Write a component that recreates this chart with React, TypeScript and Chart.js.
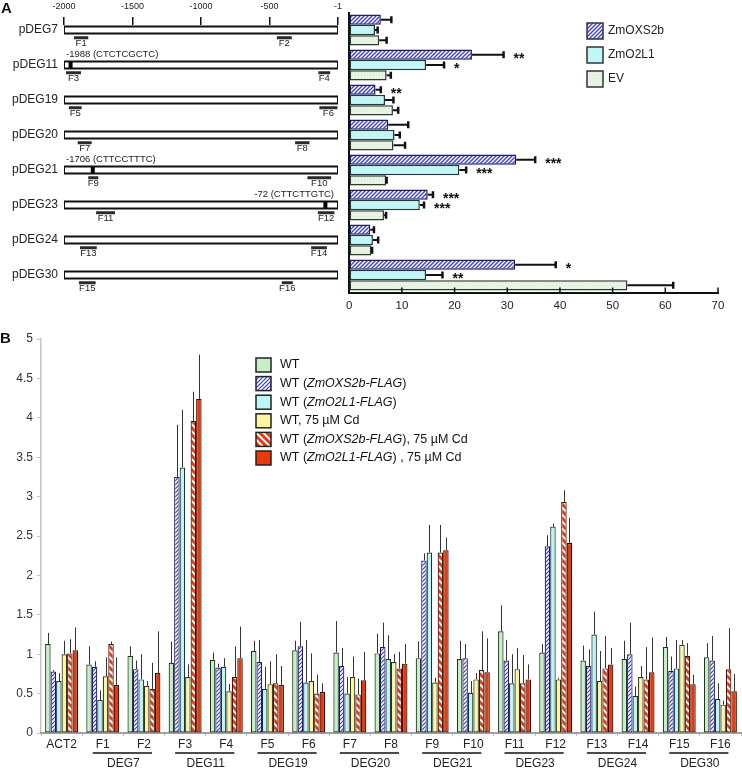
import React, { useEffect, useRef } from 'react';
import { Chart, registerables } from 'chart.js';

Chart.register(...registerables);

const FONT = '"Liberation Sans", Arial, Helvetica, sans-serif';

// ---------------- Panel A : promoter diagram ----------------
const promoters = ['pDEG7', 'pDEG11', 'pDEG19', 'pDEG20', 'pDEG21', 'pDEG23', 'pDEG24', 'pDEG30'];
const promoterStart = -2000;
const promoterEnd = -1;
const diagramTicks = [-2000, -1500, -1000, -500, -1];
const fragmentLabels = ['F1', 'F2', 'F3', 'F4', 'F5', 'F6', 'F7', 'F8', 'F9', 'F10', 'F11', 'F12', 'F13', 'F14', 'F15', 'F16'];
const fragmentPromoter = ['pDEG7', 'pDEG7', 'pDEG11', 'pDEG11', 'pDEG19', 'pDEG19', 'pDEG20', 'pDEG20', 'pDEG21', 'pDEG21', 'pDEG23', 'pDEG23', 'pDEG24', 'pDEG24', 'pDEG30', 'pDEG30'];
const fragmentStart = [-1927, -447, -1985, -144, -1964, -137, -1900, -314, -1823, -224, -1766, -148, -1883, -197, -1891, -411];
const fragmentEnd = [-1823, -338, -1876, -58, -1871, -5, -1798, -209, -1750, -51, -1628, -27, -1761, -82, -1769, -331];
const motifPromoter = ['pDEG11', 'pDEG21', 'pDEG23'];
const motifPosition = [-1952, -1790, -93];
const motifLabels = ['-1988 (CTCTCGCTC)', '-1706 (CTTCCTTTC)', '-72 (CTTCTTGTC)'];

// ---------------- Panel A : relative activity bars ----------------
const seriesA = ['ZmOXS2b', 'ZmO2L1', 'EV'];
const oxs2bA = [6.0, 23.3, 5.0, 7.4, 31.7, 14.9, 4.0, 31.5];
const oxs2bAErr = [2.0, 6.0, 1.0, 3.8, 3.6, 1.0, 0.7, 7.7];
const o2l1A = [4.9, 14.6, 6.8, 8.6, 20.9, 13.4, 4.5, 14.6];
const o2l1AErr = [0.5, 3.4, 1.6, 1.0, 1.3, 0.8, 1.0, 3.1];
const evA = [5.7, 7.1, 8.3, 8.4, 7.0, 6.6, 4.2, 52.8];
const evAErr = [1.4, 0.8, 1.0, 2.2, 0.1, 0.4, 0.15, 8.7];
const oxs2bASig = ['', '**', '**', '', '***', '***', '', '*'];
const o2l1ASig = ['', '*', '', '', '***', '***', '', '**'];
const evASig = ['', '', '', '', '', '', '', ''];
const xTicksA = [0, 10, 20, 30, 40, 50, 60, 70];

// ---------------- Panel B : ChIP enrichment ----------------
const categoriesB = ['ACT2', 'F1', 'F2', 'F3', 'F4', 'F5', 'F6', 'F7', 'F8', 'F9', 'F10', 'F11', 'F12', 'F13', 'F14', 'F15', 'F16'];
const groupNames = ['DEG7', 'DEG11', 'DEG19', 'DEG20', 'DEG21', 'DEG23', 'DEG24', 'DEG30'];
const groupFirst = ['F1', 'F3', 'F5', 'F7', 'F9', 'F11', 'F13', 'F15'];
const groupLast = ['F2', 'F4', 'F6', 'F8', 'F10', 'F12', 'F14', 'F16'];
const seriesB = [
  'WT',
  'WT (ZmOXS2b-FLAG)',
  'WT (ZmO2L1-FLAG)',
  'WT, 75 µM Cd',
  'WT (ZmOXS2b-FLAG), 75 µM Cd',
  'WT (ZmO2L1-FLAG) , 75 µM Cd',
];
const wtB = [1.13, 0.87, 0.98, 0.89, 0.93, 1.04, 1.05, 1.02, 1.01, 0.95, 0.94, 1.29, 1.02, 0.92, 0.94, 1.09, 0.96];
const wtBErr = [0.14, 0.23, 0.12, 0.27, 0.09, 0.13, 0.12, 0.40, 0.25, 0.21, 0.23, 0.33, 0.11, 0.19, 0.23, 0.13, 0.18];
const oxs2bB = [0.78, 0.84, 0.81, 3.25, 0.83, 0.90, 1.10, 0.85, 1.09, 2.19, 0.95, 0.92, 2.37, 0.85, 1.00, 0.79, 0.92];
const oxs2bBErr = [0.02, 0.07, 0.11, 0.66, 0.05, 0.28, 0.31, 0.23, 0.31, 0.09, 0.18, 0.26, 0.14, 0.21, 0.40, 0.18, 0.31];
const o2l1B = [0.66, 0.42, 0.68, 3.37, 0.84, 0.56, 0.64, 0.50, 0.94, 2.29, 0.51, 0.63, 2.62, 1.25, 0.47, 0.82, 0.43];
const o2l1BErr = [0.10, 0.12, 0.32, 0.73, 0.11, 0.28, 0.54, 0.21, 0.30, 0.35, 0.15, 0.37, 0.04, 0.29, 0.12, 0.36, 0.20];
const wtCdB = [1.00, 0.72, 0.60, 0.71, 0.53, 0.62, 0.66, 0.71, 0.90, 0.64, 0.68, 0.81, 0.68, 0.66, 0.71, 1.12, 0.36];
const wtCdBErr = [0.17, 0.24, 0.06, 0.16, 0.09, 0.29, 0.35, 0.26, 0.10, 0.06, 0.08, 0.27, 0.02, 0.38, 0.14, 0.06, 0.05];
const oxs2bCdB = [1.01, 1.13, 0.56, 3.96, 0.71, 0.63, 0.50, 0.49, 0.82, 2.29, 0.80, 0.63, 2.93, 0.82, 0.68, 0.98, 0.81];
const oxs2bCdBErr = [0.18, 0.03, 0.33, 0.37, 0.39, 0.37, 0.24, 0.20, 0.21, 0.35, 0.49, 0.36, 0.15, 0.41, 0.41, 0.16, 0.52];
const o2l1CdB = [1.05, 0.61, 0.76, 4.24, 0.95, 0.61, 0.52, 0.67, 0.88, 2.32, 0.77, 0.68, 2.41, 0.87, 0.77, 0.62, 0.53];
const o2l1CdBErr = [0.29, 0.35, 0.53, 0.56, 0.40, 0.24, 0.11, 0.36, 0.25, 0.16, 0.43, 0.19, 0.32, 0.21, 0.44, 0.12, 0.22];

function makeHatch(target: CanvasRenderingContext2D, bg: string, fg: string, size: number, lw: number, dir: string) {
  const c = document.createElement('canvas');
  c.width = size;
  c.height = size;
  const g = c.getContext('2d')!;
  g.fillStyle = bg;
  g.fillRect(0, 0, size, size);
  g.strokeStyle = fg;
  g.lineWidth = lw;
  g.beginPath();
  if (dir === '/') {
    g.moveTo(0, size); g.lineTo(size, 0);
    g.moveTo(-size / 2, size / 2); g.lineTo(size / 2, -size / 2);
    g.moveTo(size / 2, size * 1.5); g.lineTo(size * 1.5, size / 2);
  } else {
    g.moveTo(0, 0); g.lineTo(size, size);
    g.moveTo(-size / 2, size / 2); g.lineTo(size / 2, size * 1.5);
    g.moveTo(size / 2, -size / 2); g.lineTo(size * 1.5, size / 2);
  }
  g.stroke();
  return target.createPattern(c, 'repeat')!;
}

function makeDots(target: CanvasRenderingContext2D, bg: string, fg: string) {
  const c = document.createElement('canvas');
  c.width = 3;
  c.height = 3;
  const g = c.getContext('2d')!;
  g.fillStyle = bg;
  g.fillRect(0, 0, 3, 3);
  g.fillStyle = fg;
  g.fillRect(0, 0, 1, 1);
  g.fillRect(1.5, 1.5, 1, 1);
  return target.createPattern(c, 'repeat')!;
}

export default function App() {
  const dRef = useRef<HTMLCanvasElement>(null);
  const aRef = useRef<HTMLCanvasElement>(null);
  const bRef = useRef<HTMLCanvasElement>(null);

  useEffect(() => {
    document.body.style.margin = '0';
    const charts: Chart[] = [];

    // ---------- diagram ----------
    const dCtx = dRef.current!.getContext('2d')!;
    const boxData: any[] = [];
    promoters.forEach((_, i) => {
      boxData.push(
        { x: promoterStart, y: i - 0.1 }, { x: promoterEnd, y: i - 0.1 },
        { x: promoterEnd, y: i + 0.1 }, { x: promoterStart, y: i + 0.1 },
        { x: promoterStart, y: i - 0.1 }, { x: promoterStart, y: null },
      );
    });
    const fragData: any[] = [];
    fragmentStart.forEach((s, i) => {
      const row = promoters.indexOf(fragmentPromoter[i]);
      fragData.push({ x: s, y: row + 0.22 }, { x: fragmentEnd[i], y: row + 0.22 }, { x: s, y: null });
    });
    const motifData: any[] = [];
    motifPosition.forEach((p, i) => {
      const row = promoters.indexOf(motifPromoter[i]);
      motifData.push({ x: p, y: row - 0.1 }, { x: p, y: row + 0.1 }, { x: p, y: null });
    });

    const diagramText = {
      id: 'diagramText',
      afterDraw(chart: any) {
        const { ctx } = chart;
        const x = chart.scales.x;
        const y = chart.scales.y;
        ctx.save();
        ctx.fillStyle = '#111';
        ctx.textBaseline = 'middle';
        ctx.font = `bold 15px ${FONT}`;
        ctx.textAlign = 'left';
        ctx.fillText('A', 1, 9);
        ctx.fillStyle = '#222';
        ctx.font = `9px ${FONT}`;
        ctx.textAlign = 'center';
        diagramTicks.forEach((v) => ctx.fillText(String(v), x.getPixelForValue(v), 7));
        ctx.font = `12px ${FONT}`;
        ctx.textAlign = 'right';
        promoters.forEach((p, i) => ctx.fillText(p, 58, y.getPixelForValue(i)));
        ctx.font = `9.5px ${FONT}`;
        ctx.textAlign = 'center';
        fragmentLabels.forEach((f, i) => {
          const row = promoters.indexOf(fragmentPromoter[i]);
          ctx.fillText(f, x.getPixelForValue((fragmentStart[i] + fragmentEnd[i]) / 2), y.getPixelForValue(row + 0.39));
        });
        ctx.font = `9.5px ${FONT}`;
        motifLabels.forEach((t, i) => {
          const row = promoters.indexOf(motifPromoter[i]);
          const yy = y.getPixelForValue(row - 0.31);
          if (motifPosition[i] < (promoterStart + promoterEnd) / 2) {
            ctx.textAlign = 'left';
            ctx.fillText(t, x.getPixelForValue(promoterStart) + 2, yy);
          } else {
            ctx.textAlign = 'right';
            ctx.fillText(t, x.getPixelForValue(promoterEnd) - 4, yy);
          }
        });
        ctx.restore();
      },
    };

    charts.push(new Chart(dCtx, {
      type: 'scatter',
      data: {
        datasets: [
          { data: boxData, showLine: true, borderColor: '#111', borderWidth: 2, pointRadius: 0, borderCapStyle: 'square', spanGaps: false } as any,
          { data: motifData, showLine: true, borderColor: '#000', borderWidth: 4, pointRadius: 0, borderCapStyle: 'butt', spanGaps: false } as any,
          { data: fragData, showLine: true, borderColor: '#2a2a2a', borderWidth: 3, pointRadius: 0, borderCapStyle: 'butt', spanGaps: false } as any,
        ],
      },
      options: {
        responsive: false,
        animation: false,
        events: [],
        layout: { padding: { left: 0, right: 7, top: 0, bottom: 5 } },
        plugins: { legend: { display: false }, tooltip: { enabled: false } },
        scales: {
          x: {
            type: 'linear', position: 'top', min: promoterStart, max: promoterEnd,
            afterBuildTicks: (s: any) => { s.ticks = diagramTicks.map((v) => ({ value: v })); },
            afterFit: (s: any) => { s.height = 25; },
            ticks: { display: false },
            grid: { display: true, drawOnChartArea: false, drawTicks: true, tickLength: 8, color: '#111', lineWidth: 1.5 },
            border: { display: false },
          },
          y: {
            type: 'linear', reverse: true, min: -5 / 35, max: 7 + 20 / 35,
            ticks: { display: false }, grid: { display: false }, border: { display: false },
            afterFit: (s: any) => { s.width = 64; },
          },
        },
      } as any,
      plugins: [diagramText],
    }));

    // ---------- bars A ----------
    const aCtx = aRef.current!.getContext('2d')!;
    const hatchA = makeHatch(aCtx, '#ffffff', '#3b3bc4', 4, 1.3, '/');
    const dotsA = makeDots(aCtx, '#edf7ea', '#cfe3c9');
    const errA = [oxs2bAErr, o2l1AErr, evAErr];
    const sigA = [oxs2bASig, o2l1ASig, evASig];

    const extrasA = {
      id: 'extrasA',
      afterDatasetsDraw(chart: any) {
        const { ctx } = chart;
        const xs = chart.scales.x;
        ctx.save();
        ctx.strokeStyle = '#111';
        chart.data.datasets.forEach((ds: any, di: number) => {
          const meta = chart.getDatasetMeta(di);
          meta.data.forEach((bar: any, i: number) => {
            const v = ds.data[i];
            const x1 = xs.getPixelForValue(v + errA[di][i]);
            const yy = bar.y;
            ctx.lineWidth = 2;
            ctx.beginPath(); ctx.moveTo(bar.x, yy); ctx.lineTo(x1, yy); ctx.stroke();
            ctx.lineWidth = 2.5;
            ctx.beginPath(); ctx.moveTo(x1, yy - 3.5); ctx.lineTo(x1, yy + 3.5); ctx.stroke();
            const s = sigA[di][i];
            if (s) {
              ctx.fillStyle = '#111';
              ctx.font = `bold 14px ${FONT}`;
              ctx.textAlign = 'left';
              ctx.textBaseline = 'alphabetic';
              ctx.fillText(s, x1 + 10, yy + 8);
            }
          });
        });
        ctx.restore();
      },
      afterDraw(chart: any) {
        const { ctx, chartArea } = chart;
        const xs = chart.scales.x;
        ctx.save();
        ctx.strokeStyle = '#111';
        ctx.lineWidth = 1.5;
        xTicksA.forEach((v) => {
          const px = xs.getPixelForValue(v);
          ctx.beginPath(); ctx.moveTo(px, chartArea.bottom); ctx.lineTo(px, chartArea.bottom - 5); ctx.stroke();
        });
        seriesA.forEach((lab, i) => {
          const cy = 31 + i * 24;
          ctx.fillStyle = chart.data.datasets[i].backgroundColor;
          ctx.fillRect(247, cy - 8, 16, 16);
          ctx.strokeStyle = '#333';
          ctx.lineWidth = 1.5;
          ctx.strokeRect(247, cy - 8, 16, 16);
          ctx.fillStyle = '#222';
          ctx.font = `12px ${FONT}`;
          ctx.textAlign = 'left';
          ctx.textBaseline = 'middle';
          ctx.fillText(lab, 268, cy);
        });
        ctx.restore();
      },
    };

    charts.push(new Chart(aCtx, {
      type: 'bar',
      data: {
        labels: promoters,
        datasets: [
          { label: seriesA[0], data: oxs2bA, backgroundColor: hatchA, borderColor: '#1f1f5e', borderWidth: 1.5, borderSkipped: false } as any,
          { label: seriesA[1], data: o2l1A, backgroundColor: '#c2f6f6', borderColor: '#1e3b3b', borderWidth: 1.5, borderSkipped: false } as any,
          { label: seriesA[2], data: evA, backgroundColor: dotsA, borderColor: '#2b3b2b', borderWidth: 1.5, borderSkipped: false } as any,
        ],
      },
      options: {
        indexAxis: 'y',
        responsive: false,
        animation: false,
        events: [],
        datasets: { bar: { barPercentage: 1, categoryPercentage: 0.88 } },
        layout: { padding: { left: 0, right: 24, top: 12.5, bottom: 0 } },
        plugins: { legend: { display: false }, tooltip: { enabled: false } },
        scales: {
          x: {
            min: 0, max: 70,
            afterBuildTicks: (s: any) => { s.ticks = xTicksA.map((v) => ({ value: v })); },
            ticks: { font: { family: FONT, size: 11.5 }, color: '#222', padding: 6 },
            grid: { display: true, drawOnChartArea: false, drawTicks: false },
            border: { display: true, color: '#111', width: 2 },
            afterFit: (s: any) => { s.height = 27.5; },
          },
          y: {
            ticks: { display: false }, grid: { display: false },
            border: { display: true, color: '#111', width: 2 },
            afterFit: (s: any) => { s.width = 8; },
          },
        },
      } as any,
      plugins: [extrasA],
    }));

    // ---------- panel B ----------
    const bCtx = bRef.current!.getContext('2d')!;
    const hatchBlue = makeHatch(bCtx, '#ffffff', '#3c3cd0', 4, 1.2, '/');
    const hatchRed = makeHatch(bCtx, '#ffffff', '#e8380e', 7, 3, '\\');
    const errB = [wtBErr, oxs2bBErr, o2l1BErr, wtCdBErr, oxs2bCdBErr, o2l1CdBErr];

    const extrasB = {
      id: 'extrasB',
      afterDatasetsDraw(chart: any) {
        const { ctx } = chart;
        const ys = chart.scales.y;
        ctx.save();
        ctx.strokeStyle = '#333';
        ctx.lineWidth = 1;
        chart.data.datasets.forEach((ds: any, di: number) => {
          const meta = chart.getDatasetMeta(di);
          meta.data.forEach((bar: any, i: number) => {
            const v = ds.data[i];
            const cx = Math.round(bar.x) + 0.5;
            ctx.beginPath(); ctx.moveTo(cx, bar.y); ctx.lineTo(cx, ys.getPixelForValue(v + errB[di][i])); ctx.stroke();
          });
        });
        ctx.restore();
      },
      afterDraw(chart: any) {
        const { ctx, chartArea } = chart;
        const xs = chart.scales.x;
        ctx.save();
        ctx.fillStyle = '#111';
        ctx.font = `bold 15px ${FONT}`;
        ctx.textAlign = 'left';
        ctx.textBaseline = 'middle';
        ctx.fillText('B', 0, 19);
        // group labels
        groupNames.forEach((g, i) => {
          const x1 = xs.getPixelForValue(categoriesB.indexOf(groupFirst[i])) - 10;
          const x2 = xs.getPixelForValue(categoriesB.indexOf(groupLast[i])) + 8;
          ctx.strokeStyle = '#111';
          ctx.lineWidth = 1.3;
          ctx.beginPath(); ctx.moveTo(x1, chartArea.bottom + 20); ctx.lineTo(x2, chartArea.bottom + 20); ctx.stroke();
          ctx.fillStyle = '#222';
          ctx.font = `12px ${FONT}`;
          ctx.textAlign = 'center';
          ctx.fillText(g, (x1 + x2) / 2 + 1, chartArea.bottom + 31);
        });
        // legend
        seriesB.forEach((lab, i) => {
          const cy = 45 + i * 18.6;
          ctx.fillStyle = chart.data.datasets[i].backgroundColor;
          ctx.fillRect(256, cy - 7, 15, 14);
          ctx.strokeStyle = '#222';
          ctx.lineWidth = 1.5;
          ctx.strokeRect(256, cy - 7, 15, 14);
          let xx = 280;
          ctx.textAlign = 'left';
          ctx.textBaseline = 'middle';
          ctx.fillStyle = '#111';
          lab.split(/(Zm\w+-FLAG)/).forEach((part) => {
            if (!part) return;
            const it = /^Zm\w+-FLAG$/.test(part);
            ctx.font = `${it ? 'italic ' : ''}12.5px ${FONT}`;
            ctx.fillText(part, xx, cy);
            xx += ctx.measureText(part).width;
          });
        });
        ctx.restore();
      },
    };

    charts.push(new Chart(bCtx, {
      type: 'bar',
      data: {
        labels: categoriesB,
        datasets: [
          { label: seriesB[0], data: wtB, backgroundColor: '#c6efc6', borderColor: '#1f331f' },
          { label: seriesB[1], data: oxs2bB, backgroundColor: hatchBlue, borderColor: '#1d1d55' },
          { label: seriesB[2], data: o2l1B, backgroundColor: '#bdf4f4', borderColor: '#1e3333' },
          { label: seriesB[3], data: wtCdB, backgroundColor: '#fbf6a4', borderColor: '#33331a' },
          { label: seriesB[4], data: oxs2bCdB, backgroundColor: hatchRed, borderColor: '#3a1a12' },
          { label: seriesB[5], data: o2l1CdB, backgroundColor: '#e8380e', borderColor: '#331008' },
        ] as any,
      },
      options: {
        responsive: false,
        animation: false,
        events: [],
        datasets: { bar: { barPercentage: 1, categoryPercentage: 0.8, borderWidth: 1.2, borderSkipped: false } },
        layout: { padding: { left: 0, right: 1, top: 19, bottom: 0 } },
        plugins: { legend: { display: false }, tooltip: { enabled: false } },
        scales: {
          y: {
            min: 0, max: 5,
            ticks: { stepSize: 0.5, font: { family: FONT, size: 12 }, color: '#333', padding: 4, callback: (v: any) => String(v) },
            grid: { display: true, drawOnChartArea: false, tickLength: 4, color: '#c4c4c4' },
            border: { display: true, color: '#c4c4c4', width: 1.5 },
            afterFit: (s: any) => { s.width = 41; },
          },
          x: {
            ticks: { font: { family: FONT, size: 12 }, color: '#222', padding: 1, autoSkip: false, maxRotation: 0 },
            grid: { display: true, drawOnChartArea: false, tickLength: 3, color: '#bbbbbb' },
            border: { display: true, color: '#a0a0a0', width: 2 },
            afterFit: (s: any) => { s.height = 37; },
          },
        },
      } as any,
      plugins: [extrasB],
    }));

    return () => charts.forEach((c) => c.destroy());
  }, []);

  return (
    <div style={{ position: 'relative', width: 742, height: 770, background: '#fff', overflow: 'hidden' }}>
      <canvas ref={dRef} width={345} height={300} style={{ position: 'absolute', left: 0, top: 0 }} />
      <canvas ref={aRef} width={402} height={320} style={{ position: 'absolute', left: 340, top: 0 }} />
      <canvas ref={bRef} width={742} height={450} style={{ position: 'absolute', left: 0, top: 320 }} />
    </div>
  );
}
